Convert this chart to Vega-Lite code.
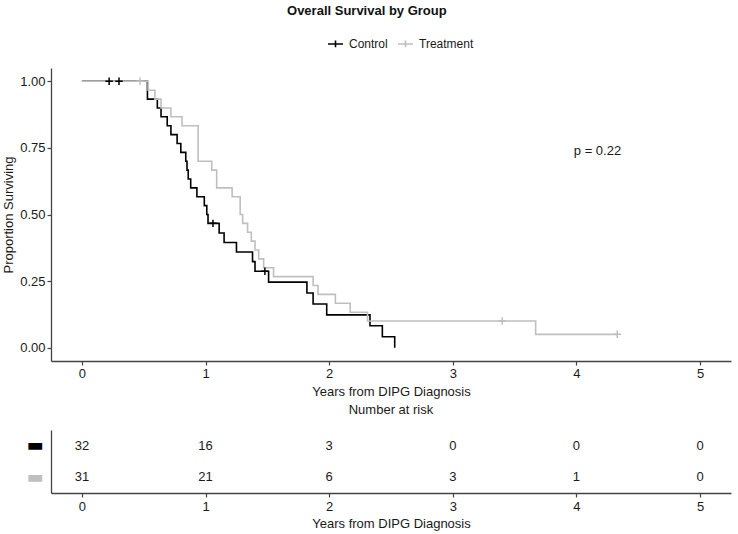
{
  "$schema": "https://vega.github.io/schema/vega-lite/v6.json",
  "padding": {"left": 2, "top": 5, "right": 6, "bottom": 2},
  "title": {
    "text": "Overall Survival by Group",
    "anchor": "middle",
    "font": "Liberation Sans",
    "fontSize": 13,
    "fontWeight": "bold",
    "color": "#111111",
    "offset": 17
  },
  "config": {
    "view": {"stroke": null},
    "axis": {
      "grid": false,
      "domainColor": "#444444",
      "domainWidth": 1.3,
      "tickColor": "#444444",
      "tickWidth": 1.2,
      "tickSize": 4,
      "labelColor": "#1a1a1a",
      "titleColor": "#1a1a1a",
      "labelFont": "Liberation Sans",
      "titleFont": "Liberation Sans",
      "labelFontSize": 13,
      "titleFontSize": 13,
      "titleFontWeight": "normal",
      "labelPadding": 2
    },
    "title": {"font": "Liberation Sans"}
  },
  "datasets": {
    "curves": [
      {"group": "Control", "time": 0, "surv": 1},
      {"group": "Control", "time": 0.53, "surv": 0.9333},
      {"group": "Control", "time": 0.61, "surv": 0.9},
      {"group": "Control", "time": 0.64, "surv": 0.8667},
      {"group": "Control", "time": 0.69, "surv": 0.8333},
      {"group": "Control", "time": 0.72, "surv": 0.8},
      {"group": "Control", "time": 0.77, "surv": 0.7667},
      {"group": "Control", "time": 0.8, "surv": 0.7333},
      {"group": "Control", "time": 0.84, "surv": 0.7},
      {"group": "Control", "time": 0.85, "surv": 0.6667},
      {"group": "Control", "time": 0.86, "surv": 0.6333},
      {"group": "Control", "time": 0.88, "surv": 0.6},
      {"group": "Control", "time": 0.93, "surv": 0.5667},
      {"group": "Control", "time": 0.99, "surv": 0.5333},
      {"group": "Control", "time": 1.01, "surv": 0.5},
      {"group": "Control", "time": 1.02, "surv": 0.4667},
      {"group": "Control", "time": 1.11, "surv": 0.4308},
      {"group": "Control", "time": 1.15, "surv": 0.3949},
      {"group": "Control", "time": 1.25, "surv": 0.359},
      {"group": "Control", "time": 1.38, "surv": 0.3231},
      {"group": "Control", "time": 1.4, "surv": 0.2872},
      {"group": "Control", "time": 1.51, "surv": 0.2462},
      {"group": "Control", "time": 1.82, "surv": 0.2051},
      {"group": "Control", "time": 1.87, "surv": 0.1641},
      {"group": "Control", "time": 1.98, "surv": 0.1231},
      {"group": "Control", "time": 2.33, "surv": 0.0821},
      {"group": "Control", "time": 2.43, "surv": 0.041},
      {"group": "Control", "time": 2.53, "surv": 0},
      {"group": "Treatment", "time": 0, "surv": 1},
      {"group": "Treatment", "time": 0.535, "surv": 0.9667},
      {"group": "Treatment", "time": 0.59, "surv": 0.9333},
      {"group": "Treatment", "time": 0.64, "surv": 0.9},
      {"group": "Treatment", "time": 0.72, "surv": 0.8667},
      {"group": "Treatment", "time": 0.81, "surv": 0.8333},
      {"group": "Treatment", "time": 0.94, "surv": 0.7},
      {"group": "Treatment", "time": 1.05, "surv": 0.6667},
      {"group": "Treatment", "time": 1.09, "surv": 0.6},
      {"group": "Treatment", "time": 1.215, "surv": 0.5667},
      {"group": "Treatment", "time": 1.28, "surv": 0.5},
      {"group": "Treatment", "time": 1.3, "surv": 0.4667},
      {"group": "Treatment", "time": 1.34, "surv": 0.4333},
      {"group": "Treatment", "time": 1.37, "surv": 0.4},
      {"group": "Treatment", "time": 1.4, "surv": 0.3667},
      {"group": "Treatment", "time": 1.43, "surv": 0.3333},
      {"group": "Treatment", "time": 1.47, "surv": 0.3},
      {"group": "Treatment", "time": 1.55, "surv": 0.2667},
      {"group": "Treatment", "time": 1.87, "surv": 0.2333},
      {"group": "Treatment", "time": 1.91, "surv": 0.2},
      {"group": "Treatment", "time": 2.05, "surv": 0.1667},
      {"group": "Treatment", "time": 2.17, "surv": 0.1333},
      {"group": "Treatment", "time": 2.31, "surv": 0.1},
      {"group": "Treatment", "time": 3.67, "surv": 0.05},
      {"group": "Treatment", "time": 4.33, "surv": 0.05}
    ],
    "censored": [
      {"group": "Control", "time": 0.22, "surv": 1},
      {"group": "Control", "time": 0.3, "surv": 1},
      {"group": "Control", "time": 1.06, "surv": 0.4667},
      {"group": "Control", "time": 1.48, "surv": 0.2872},
      {"group": "Treatment", "time": 0.47, "surv": 1},
      {"group": "Treatment", "time": 3.4, "surv": 0.1},
      {"group": "Treatment", "time": 4.33, "surv": 0.05}
    ],
    "pval": [
      {"time": 4.17, "surv": 0.74, "label": "p = 0.22"}
    ],
    "risk": [
      {"group": "Control", "time": 0, "n": 32},
      {"group": "Control", "time": 1, "n": 16},
      {"group": "Control", "time": 2, "n": 3},
      {"group": "Control", "time": 3, "n": 0},
      {"group": "Control", "time": 4, "n": 0},
      {"group": "Control", "time": 5, "n": 0},
      {"group": "Treatment", "time": 0, "n": 31},
      {"group": "Treatment", "time": 1, "n": 21},
      {"group": "Treatment", "time": 2, "n": 6},
      {"group": "Treatment", "time": 3, "n": 3},
      {"group": "Treatment", "time": 4, "n": 1},
      {"group": "Treatment", "time": 5, "n": 0}
    ]
  },
  "bounds": "flush",
  "spacing": 69,
  "resolve": {"scale": {"color": "independent"}},
  "vconcat": [
    {
      "width": 680,
      "height": 293,
      "layer": [
        {
          "data": {"name": "curves"},
          "mark": {"type": "line", "interpolate": "step-after", "strokeWidth": 1.6},
          "encoding": {
            "x": {
              "field": "time",
              "type": "quantitative",
              "scale": {"domain": [-0.25, 5.25], "nice": false, "zero": false},
              "axis": {"values": [0, 1, 2, 3, 4, 5], "format": "d", "title": "Years from DIPG Diagnosis", "titlePadding": 5}
            },
            "y": {
              "field": "surv",
              "type": "quantitative",
              "scale": {"domain": [-0.05, 1.05], "nice": false, "zero": false},
              "axis": {"values": [0, 0.25, 0.5, 0.75, 1], "format": ".2f", "title": "Proportion Surviving", "titlePadding": 4}
            },
            "color": {
              "field": "group",
              "type": "nominal",
              "scale": {"domain": ["Control", "Treatment"], "range": ["#000000", "#bfbfbf"]},
              "legend": {
                "orient": "none",
                "legendX": 276,
                "legendY": -33,
                "direction": "horizontal",
                "title": null,
                "symbolType": "M-1,0H1M0,-0.45V0.45",
                "symbolSize": 225,
                "symbolStrokeWidth": 1.6,
                "symbolFillColor": "transparent",
                "labelFont": "Liberation Sans",
                "labelFontSize": 12,
                "labelColor": "#1a1a1a",
                "labelOffset": 5,
                "columnPadding": 6,
                "padding": 0
              }
            }
          }
        },
        {
          "data": {"name": "censored"},
          "mark": {"type": "point", "shape": "M-1,0H1M0,-1V1", "filled": false, "size": 56, "strokeWidth": 1.5, "opacity": 1},
          "encoding": {
            "x": {"field": "time", "type": "quantitative"},
            "y": {"field": "surv", "type": "quantitative"},
            "color": {"field": "group", "type": "nominal", "legend": null}
          }
        },
        {
          "data": {"name": "pval"},
          "mark": {"type": "text", "font": "Liberation Sans", "fontSize": 13, "color": "#1a1a1a"},
          "encoding": {
            "x": {"field": "time", "type": "quantitative"},
            "y": {"field": "surv", "type": "quantitative"},
            "text": {"field": "label"}
          }
        }
      ]
    },
    {
      "width": 680,
      "height": 63,
      "title": {"text": "Number at risk", "anchor": "middle", "fontSize": 13, "fontWeight": "normal", "color": "#1a1a1a", "offset": 13},
      "data": {"name": "risk"},
      "mark": {"type": "text", "font": "Liberation Sans", "fontSize": 13, "color": "#1a1a1a"},
      "encoding": {
        "x": {
          "field": "time",
          "type": "quantitative",
          "scale": {"domain": [-0.25, 5.25], "nice": false, "zero": false},
          "axis": {"values": [0, 1, 2, 3, 4, 5], "format": "d", "title": "Years from DIPG Diagnosis", "labelPadding": 3, "titlePadding": 4}
        },
        "y": {
          "field": "group",
          "type": "nominal",
          "scale": {"domain": ["Control", "Treatment"], "paddingInner": 0, "paddingOuter": 0},
          "axis": {
            "title": null,
            "ticks": false,
            "tickSize": 0,
            "labelExpr": "'▬'",
            "labelFont": "DejaVu Sans",
            "labelFontSize": 18,
            "labelPadding": 8,
            "labelColor": {"condition": {"test": "datum.value === 'Control'", "value": "#000000"}, "value": "#bfbfbf"}
          }
        },
        "text": {"field": "n", "type": "quantitative"}
      }
    }
  ]
}
